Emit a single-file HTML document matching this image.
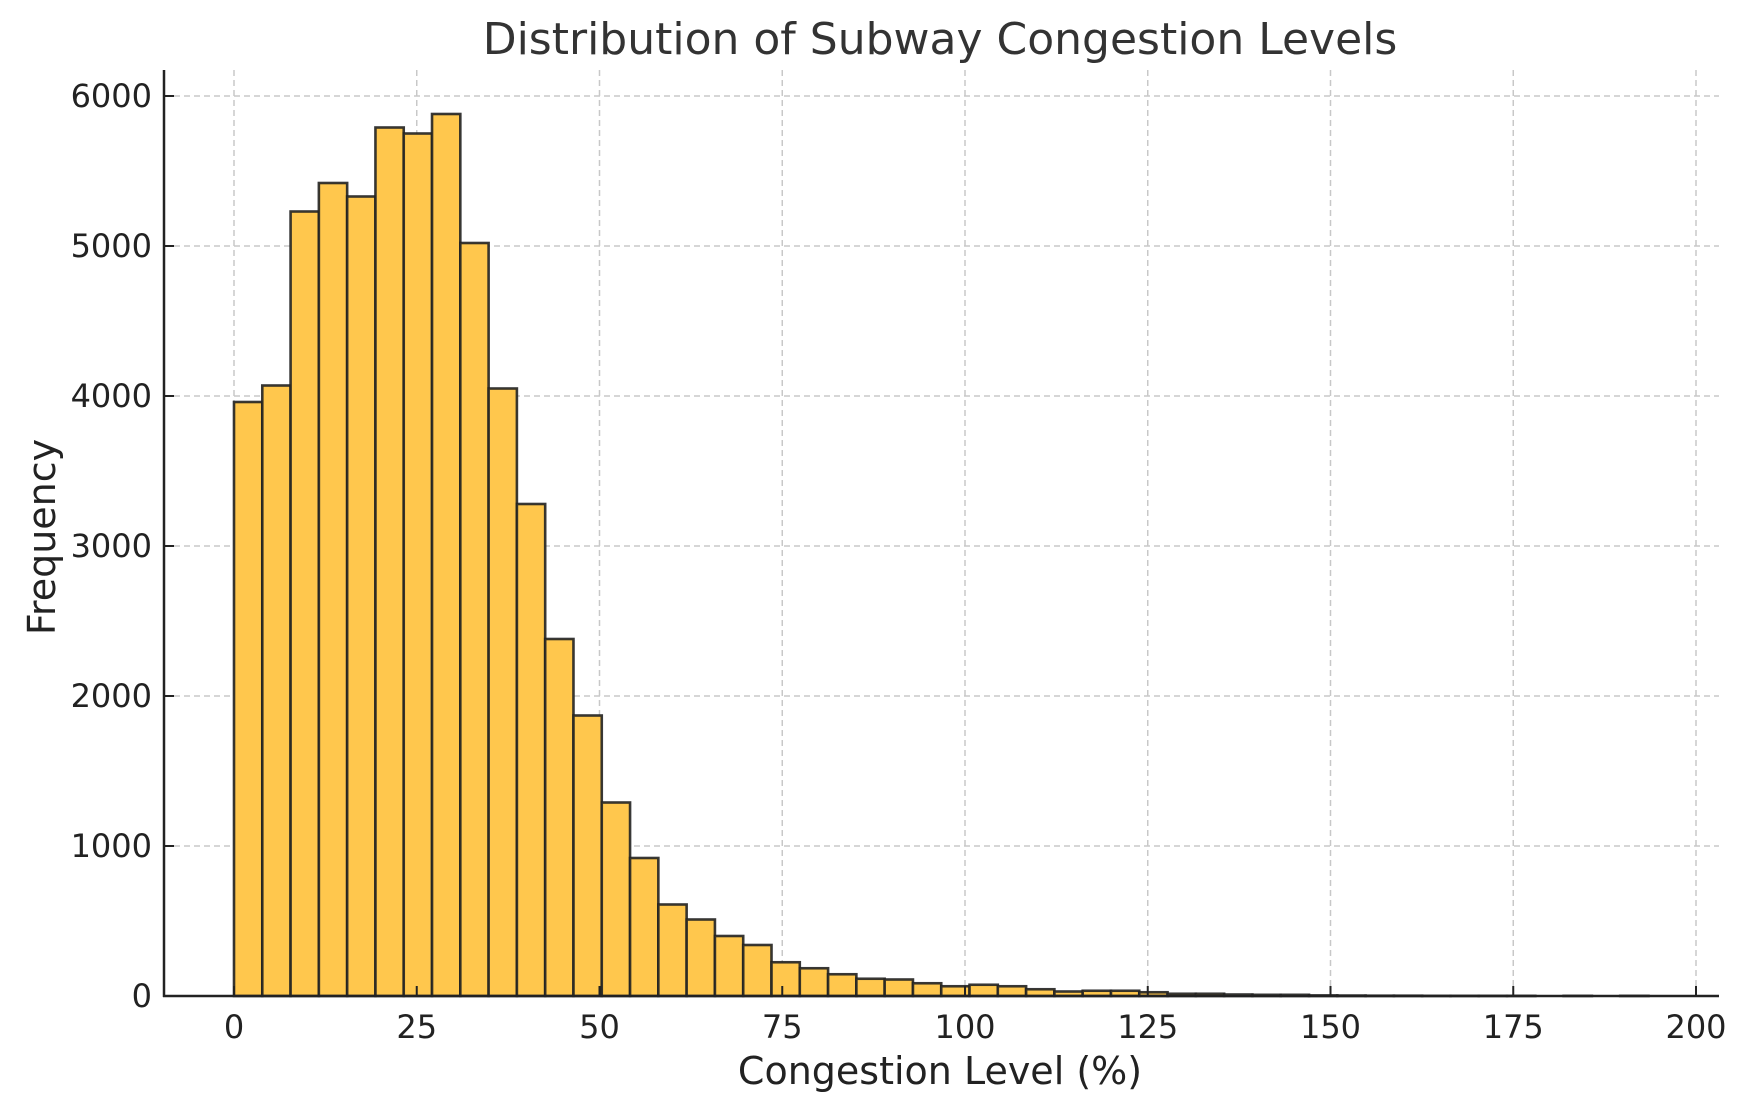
<!DOCTYPE html>
<html><head><meta charset="utf-8"><style>
body{margin:0;background:#fff}
svg{display:block;font-family:"DejaVu Sans","Liberation Sans",sans-serif}
</style></head><body>
<svg id="chart" width="1748" height="1106" viewBox="0 0 1748 1106">
<text x="940" y="54" text-anchor="middle" font-size="44" fill="#333">Distribution of Subway Congestion Levels</text>
<g id="grid"></g>
<g id="bars"></g>
<g id="axes"></g>
<text x="940" y="1084" text-anchor="middle" font-size="38" fill="#222">Congestion Level (%)</text>
<text transform="translate(55,537) rotate(-90)" text-anchor="middle" font-size="38" fill="#222">Frequency</text>
</svg>
<script>
const counts=[3960,4070,5230,5420,5330,5790,5750,5880,5020,4050,3280,2380,1870,1290,920,610,510,400,340,225,185,145,115,110,85,65,75,65,45,30,35,35,25,15,15,10,8,8,4,3,2,2,1,1,1,1,0,1,0,1];
const binStart=0, binWidth=3.87;
const xTicks=[0,25,50,75,100,125,150,175,200];
const yTicks=[0,1000,2000,3000,4000,5000,6000];
const NS="http://www.w3.org/2000/svg";
const X=v=>234+(v)*7.31;
const Y=v=>996-v*0.15;
const L=164,R=1719,T=70,B=996;
function mk(tag,attrs,parent){const e=document.createElementNS(NS,tag);for(const k in attrs)e.setAttribute(k,attrs[k]);parent.appendChild(e);return e;}
const grid=document.getElementById('grid'),bars=document.getElementById('bars'),axes=document.getElementById('axes');
xTicks.forEach(t=>{
  const g=mk('line',{x1:X(t),x2:X(t),y1:T,y2:B,stroke:'#c8c8c8','stroke-width':1.5,'stroke-dasharray':'6,4'},grid);
  
  
  const tk=mk('line',{x1:X(t),x2:X(t),y1:B,y2:B-10,stroke:'#222','stroke-width':2},axes);
  
  
  const tx=mk('text',{x:X(t),y:1038,'text-anchor':'middle','font-size':32,fill:'#222'},axes);
  tx.textContent=t;
  
  
});
yTicks.forEach(t=>{
  const g=mk('line',{x1:L,x2:R,y1:Y(t),y2:Y(t),stroke:'#c8c8c8','stroke-width':1.5,'stroke-dasharray':'6,4'},grid);
  
  
  const tk=mk('line',{x1:L,x2:L+10,y1:Y(t),y2:Y(t),stroke:'#222','stroke-width':2},axes);
  
  
  const tx=mk('text',{x:152,y:Y(t)+11,'text-anchor':'end','font-size':32,fill:'#222'},axes);
  tx.textContent=t;
  
  
});
counts.forEach((c,i)=>{
  const x0=X(binStart+i*binWidth),x1=X(binStart+(i+1)*binWidth);
  const r=mk('rect',{x:x0,y:Y(c),width:x1-x0,height:B-Y(c),fill:'#ffc74d',stroke:'#222','stroke-width':2.6,'stroke-opacity':0.9},bars);
  
  
});
const ly=mk('line',{x1:L,x2:L,y1:T,y2:B+1,stroke:'#222','stroke-width':2.5},axes);


const lx=mk('line',{x1:L-1,x2:R,y1:B,y2:B,stroke:'#222','stroke-width':2.5},axes);


</script>
</body></html>
